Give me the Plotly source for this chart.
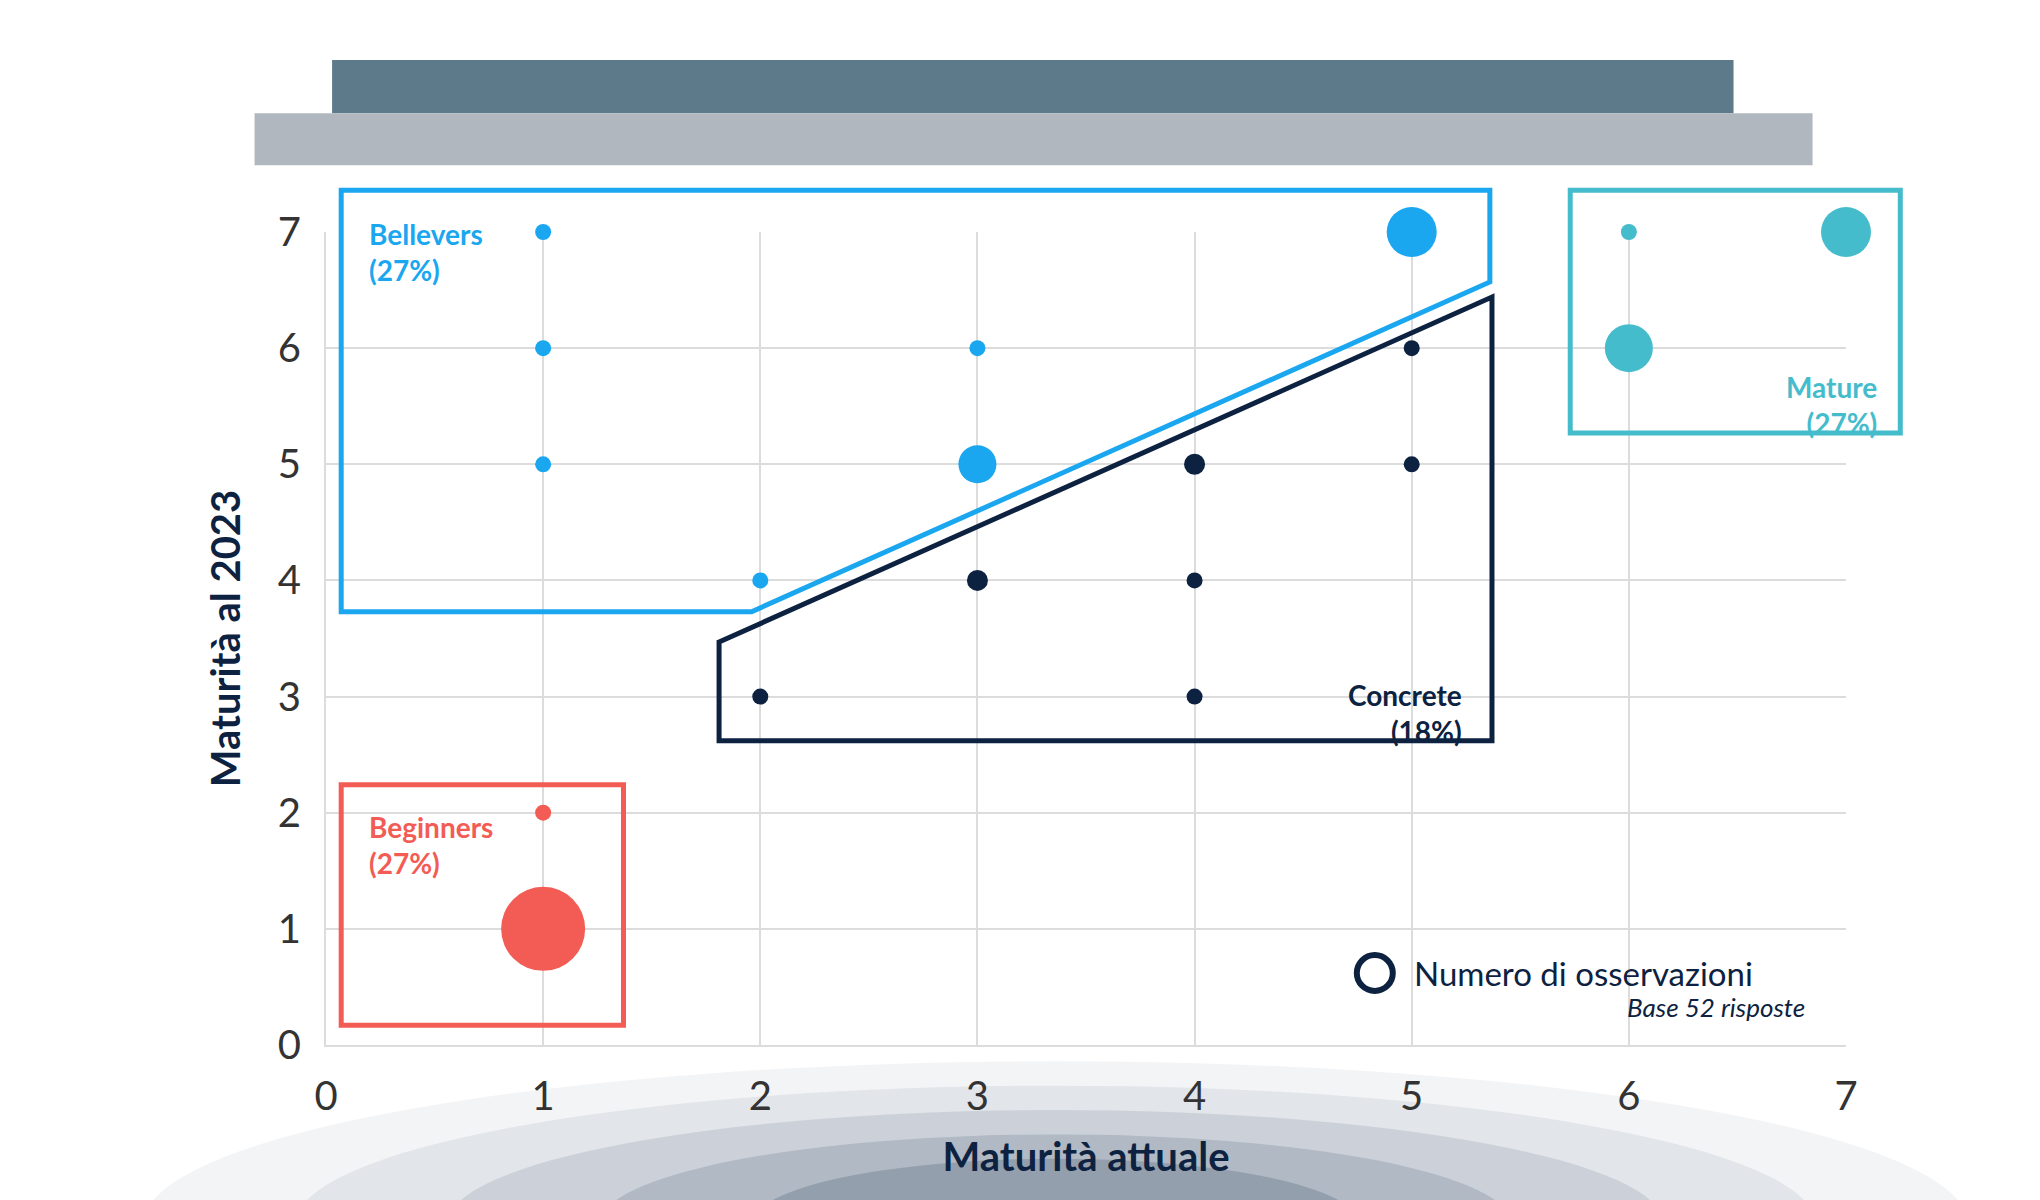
import plotly.graph_objects as go

groups = {
    "Bellevers": {"x": [1, 1, 1, 3, 2, 3, 5], "y": [7, 6, 5, 6, 4, 5, 7], "s": [16, 16, 16, 16, 16, 38, 50], "c": "#1aa7f0"},
    "Concrete": {"x": [5, 5, 4, 3, 4, 2, 4], "y": [6, 5, 5, 4, 4, 3, 3], "s": [16, 16, 21, 21, 16, 16, 16], "c": "#0d2240"},
    "Mature": {"x": [6, 7, 6], "y": [7, 7, 6], "s": [16, 50, 48], "c": "#45bccc"},
    "Beginners": {"x": [1, 1], "y": [2, 1], "s": [16, 84], "c": "#f25c54"},
}
ticks = [0, 1, 2, 3, 4, 5, 6, 7]
FONT = "Lato"
R = 7.0  # axis max, used to map data units onto the plot-area paper fraction

def P(v):
    return v / R

fig = go.Figure()
for name, g in groups.items():
    fig.add_trace(go.Scatter(x=g["x"], y=g["y"], mode="markers", name=name,
                             marker=dict(size=g["s"], color=g["c"], line=dict(width=0), opacity=1),
                             cliponaxis=False, showlegend=False))

def path(pts):
    return "M" + " L".join(f"{P(a):.4f},{P(b):.4f}" for a, b in pts) + " Z"

shapes = []
for rx, ry, op in [(0.60, 0.20, 0.05), (0.50, 0.17, 0.07), (0.40, 0.14, 0.10), (0.30, 0.11, 0.14), (0.20, 0.08, 0.18)]:
    shapes.append(dict(type="circle", xref="paper", yref="paper", x0=0.48 - rx, x1=0.48 + rx,
                       y0=-0.22 - ry, y1=-0.22 + ry, fillcolor="#0d2a4a",
                       opacity=op, line=dict(width=0), layer="below"))
shapes += [
    dict(type="rect", xref="paper", yref="paper", x0=0.004, x1=0.926, y0=1.146, y1=1.2116, fillcolor="#5d7a8a", line=dict(width=0)),
    dict(type="rect", xref="paper", yref="paper", x0=-0.047, x1=0.978, y0=1.082, y1=1.146, fillcolor="#b0b7be", line=dict(width=0)),
    dict(type="path", xref="paper", yref="paper", path=path([(0.07, 3.73), (0.07, 7.36), (5.36, 7.36), (5.36, 6.57), (1.96, 3.73)]), line=dict(color="#1aa7f0", width=5)),
    dict(type="path", xref="paper", yref="paper", path=path([(1.81, 3.47), (5.37, 6.44), (5.37, 2.62), (1.81, 2.62)]), line=dict(color="#0d2240", width=5)),
    dict(type="rect", xref="paper", yref="paper", x0=P(5.73), x1=P(7.25), y0=P(5.27), y1=P(7.36), line=dict(color="#45bccc", width=5)),
    dict(type="rect", xref="paper", yref="paper", x0=P(0.07), x1=P(1.37), y0=P(0.17), y1=P(2.24), line=dict(color="#f25c54", width=5)),
]
fig.update_layout(shapes=shapes)

fig.add_trace(go.Scatter(x=[4.83], y=[0.62], mode="markers", showlegend=False, cliponaxis=False,
                         marker=dict(size=36, color="white", line=dict(color="#0d2240", width=6))))

ann = [
    dict(x=0.19, y=7.15, text="<b>Bellevers<br>(27%)</b>", color="#1aa7f0", xanchor="left", align="left"),
    dict(x=7.15, y=5.83, text="<b>Mature<br>(27%)</b>", color="#45bccc", xanchor="right", align="right"),
    dict(x=5.24, y=3.18, text="<b>Concrete<br>(18%)</b>", color="#0d2240", xanchor="right", align="right"),
    dict(x=0.19, y=2.04, text="<b>Beginners<br>(27%)</b>", color="#f25c54", xanchor="left", align="left"),
]
for a in ann:
    fig.add_annotation(x=P(a["x"]), y=P(a["y"]), xref="paper", yref="paper", text=a["text"], showarrow=False,
                       xanchor=a["xanchor"], yanchor="top", align=a["align"],
                       font=dict(family=FONT, size=28, color=a["color"]))
fig.add_annotation(x=5.0, y=0.62, text="Numero di osservazioni", showarrow=False, xanchor="left",
                   font=dict(family=FONT, size=33, color="#0d2240"))
fig.add_annotation(x=6.82, y=0.33, text="<i>Base 52 risposte</i>", showarrow=False, xanchor="right",
                   font=dict(family=FONT, size=26, color="#0d2240"))

axis = dict(range=[0, 7], tickvals=ticks, showgrid=True, gridcolor="#dcdcdc", gridwidth=2, zeroline=False,
            showline=True, linecolor="#dcdcdc", linewidth=2, tickfont=dict(family=FONT, size=40, color="#333"),
            fixedrange=True)
fig.update_xaxes(**axis, title=dict(text="<b>Maturità attuale</b>", font=dict(family=FONT, size=40, color="#0d2240"), standoff=25), ticklabelstandoff=15)
fig.update_yaxes(**axis, title=dict(text="<b>Maturità al 2023</b>", font=dict(family=FONT, size=40, color="#0d2240"), standoff=25), ticklabelstandoff=15)
fig.update_layout(width=2040, height=1200, paper_bgcolor="white", plot_bgcolor="white",
                  margin=dict(l=318, r=202, t=224, b=163))
fig.write_html("out.html")
